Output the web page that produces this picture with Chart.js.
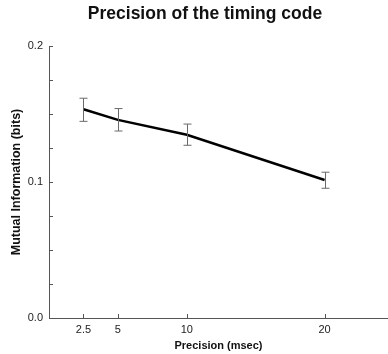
<!DOCTYPE html>
<html>
<head>
<meta charset="utf-8">
<script src="https://cdn.jsdelivr.net/npm/chart.js@4/dist/chart.umd.min.js"></script>
<style>
  html, body { margin: 0; padding: 0; background: #fff; }
  #wrap { width: 388px; height: 354px; }
</style>
</head>
<body>
<div id="wrap"><canvas id="chart"></canvas></div>
<script>
// precision (msec) and mutual information (bits)
var precision = [2.5, 5, 10, 20];
var info = [0.1535, 0.1457, 0.1347, 0.1015];
var errLow = [0.1446, 0.1375, 0.1270, 0.0954];
var errHigh = [0.1616, 0.1540, 0.1426, 0.1072];
var xTicks = [2.5, 5, 10, 20];

// error bars, inward tick marks, title nudged right
var extras = {
    id: "extras",
    afterLayout: function (chart) {
        if (chart.titleBlock) chart.titleBlock.left = 22;
    },
    afterDatasetsDraw: function (chart) {
        var ctx = chart.ctx;
        var x = chart.scales.x, y = chart.scales.y;
        ctx.save();
        ctx.strokeStyle = "#6a6a6a";
        ctx.lineWidth = 1;
        for (var i = 0; i < precision.length; i++) {
            var px = Math.round(x.getPixelForValue(precision[i])) + 0.5;
            var lo = y.getPixelForValue(errLow[i]);
            var hi = y.getPixelForValue(errHigh[i]);
            ctx.beginPath();
            ctx.moveTo(px, lo); ctx.lineTo(px, hi);
            ctx.moveTo(px - 4, lo); ctx.lineTo(px + 4, lo);
            ctx.moveTo(px - 4, hi); ctx.lineTo(px + 4, hi);
            ctx.stroke();
        }
        ctx.strokeStyle = "#555";
        var left = chart.chartArea.left, bottom = chart.chartArea.bottom;
        y.ticks.forEach(function (t) {
            var py = Math.round(y.getPixelForValue(t.value)) + 0.5;
            ctx.beginPath(); ctx.moveTo(left, py); ctx.lineTo(left + 4, py); ctx.stroke();
        });
        x.ticks.forEach(function (t) {
            var px = Math.round(x.getPixelForValue(t.value)) + 0.5;
            ctx.beginPath(); ctx.moveTo(px, bottom); ctx.lineTo(px, bottom - 4); ctx.stroke();
        });
        ctx.restore();
    }
};

Chart.defaults.font.family = "'Liberation Sans', Arial, sans-serif";
Chart.defaults.color = "#222";

new Chart(document.getElementById("chart"), {
    type: "line",
    data: {
        datasets: [{
            data: precision.map(function (p, i) { return { x: p, y: info[i] }; }),
            borderColor: "#000",
            borderWidth: 2.5,
            pointRadius: 0,
            tension: 0
        }]
    },
    options: {
        responsive: true,
        maintainAspectRatio: false,
        animation: false,
        layout: { padding: { left: 0, right: 0, top: 0, bottom: 0 } },
        plugins: {
            legend: { display: false },
            tooltip: { enabled: false },
            title: {
                display: true,
                text: "Precision of the timing code",
                font: { size: 17.5, weight: "bold" },
                color: "#111",
                padding: { top: 3.8, bottom: 21.2 }
            }
        },
        scales: {
            x: {
                type: "linear",
                min: 0,
                max: 24.6,
                afterBuildTicks: function (s) {
                    s.ticks = xTicks.map(function (v) { return { value: v }; });
                },
                afterFit: function (s) { s.height = 36; },
                grid: { display: true, drawOnChartArea: false, drawTicks: false },
                border: { color: "#555", width: 1 },
                ticks: {
                    padding: 5,
                    font: { size: 11 },
                    callback: function (v) { return String(v); }
                },
                title: {
                    display: true,
                    text: "Precision (msec)",
                    font: { size: 11, weight: "bold" },
                    color: "#111",
                    padding: { top: 0, bottom: 1.6 }
                }
            },
            y: {
                min: 0,
                max: 0.2,
                afterFit: function (s) { s.width = 49; },
                grid: { display: true, drawOnChartArea: false, drawTicks: false },
                border: { color: "#555", width: 1 },
                ticks: {
                    stepSize: 0.025,
                    padding: 6,
                    font: { size: 11 },
                    autoSkip: false,
                    callback: function (v) {
                        var k = Math.round(v * 1000);
                        return k % 100 === 0 ? (k / 1000).toFixed(1) : "";
                    }
                },
                title: {
                    display: true,
                    text: "Mutual Information (bits)",
                    font: { size: 12.5, weight: "bold" },
                    color: "#111",
                    padding: { top: 9.5, bottom: 0 }
                }
            }
        }
    },
    plugins: [extras]
});
</script>
</body>
</html>
